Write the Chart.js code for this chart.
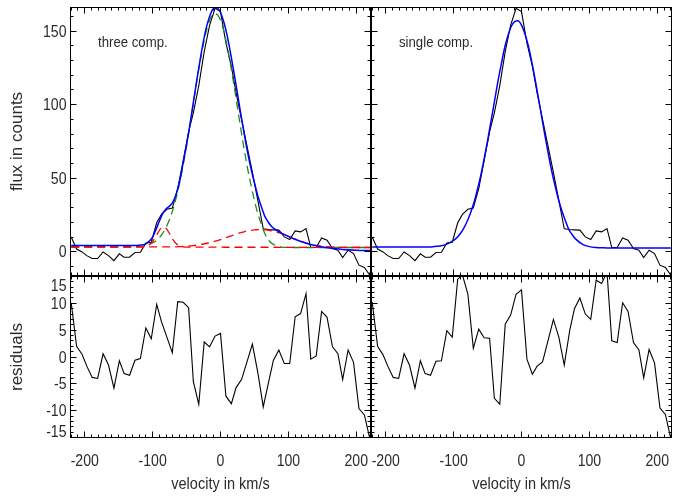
<!DOCTYPE html>
<html><head><meta charset="utf-8">
<script src="https://cdn.jsdelivr.net/npm/chart.js@4/dist/chart.umd.min.js"></script>
<style>
html,body{margin:0;padding:0;background:#fff;}
#wrap{position:relative;width:674px;height:496px;background:#fff;}
#wrap canvas{position:absolute;left:0;top:0;}
</style></head><body>
<div id="wrap">
<canvas id="c1" width="674" height="496"></canvas>
<canvas id="c2" width="674" height="496"></canvas>
<canvas id="c3" width="674" height="496"></canvas>
<canvas id="c4" width="674" height="496"></canvas>
</div>
<script>
// ---------- data ----------
const velocity = [-220,-212,-204,-197,-189,-181,-173,-165,-157,-149,-142,-134,-126,-118,-110,-102,-94,-87,-79,-71,-63,-55,-47,-40,-32,-24,-16,-8,0,8,16,23,31,39,47,55,63,71,78,86,94,102,110,118,126,133,141,149,157,165,173,180,188,196,204,212,220];
const flux = [10.2,2.0,0.0,-2.5,-4.5,-4.5,0.0,-2.5,-5.9,-1.3,-3.6,-3.6,-0.4,-0.2,6.1,6.6,19.8,25.5,29.0,29.8,43.0,62.0,81.6,94.5,113.0,136.0,154.0,165.5,163.2,142.0,126.0,108.0,90.0,72.0,54.0,35.0,15.7,15.2,15.0,14.8,10.2,8.4,14.3,13.6,15.9,3.0,3.0,9.5,8.0,2.3,1.2,-3.8,1.2,-1.1,-9.0,-10.6,-15.8];
const residThree = [10.1,2.0,0.5,-1.7,-3.8,-4.0,0.6,-1.5,-5.8,-0.7,-3.1,-3.4,-0.6,-0.3,5.4,3.4,9.8,6.6,3.7,0.8,10.3,10.2,9.2,-4.6,-8.8,2.8,1.9,3.9,4.4,-7.3,-8.7,-5.7,-4.2,-0.9,2.4,-2.9,-9.3,-4.6,-0.6,1.3,-1.2,-1.2,7.5,8.1,11.8,-0.4,0.2,8.5,7.4,1.9,0.6,-4.2,1.3,-1.0,-9.6,-10.8,-15.2];
const residSingle = [10.3,2.0,0.4,-1.7,-3.8,-4.0,0.6,-1.5,-5.8,-0.7,-3.1,-3.4,-0.8,-0.7,4.9,3.7,14.5,15.3,11.7,1.6,5.2,3.6,3.5,-7.7,-8.8,6.1,7.8,11.7,12.5,-0.4,-3.2,-1.7,-0.9,3.0,7.0,3.7,-1.5,4.9,9.0,11.0,8.0,7.0,14.3,13.7,15.8,3.0,2.7,10.1,8.5,2.7,1.3,-3.9,1.4,-1.1,-9.5,-10.7,-15.2];

const modelVel = [-220,-200,-180,-160,-140,-130,-120,-110,-100,-95,-90,-85,-80,-75,-70,-65,-60,-55,-50,-45,-40,-35,-30,-25,-20,-15,-10,-5,0,5,10,15,20,25,30,35,40,45,50,55,60,65,70,75,80,90,100,110,120,130,140,150,160,170,180,200,220];
const fitThree = [4.3,4.3,4.3,4.3,4.3,4.4,4.6,5.5,10.0,15.3,21.0,26.2,29.3,31.2,34.0,39.7,48.5,60.5,72.8,86.5,101.5,116.5,130.5,143.5,154.0,161.3,165.3,165.6,162.6,156.0,146.5,134.5,121.5,107.5,93.5,80.0,67.5,56.5,47.0,38.0,31.0,24.5,20.5,17.5,15.5,12.8,10.6,8.6,6.9,5.4,4.3,3.4,2.7,2.1,1.7,1.2,0.9];
const compMain = [3.3,3.3,3.3,3.3,3.3,3.3,3.6,4.4,6.1,7.6,9.8,12.8,16.9,22.2,28.9,37.3,47.3,59.0,72.1,86.3,101.0,115.6,129.5,141.7,151.5,158.4,161.7,161.3,157.3,149.8,139.4,126.8,112.8,98.0,83.4,69.4,56.6,45.2,35.0,26.0,19.0,12.8,8.6,6.0,4.6,3.3,3.1,3.0,3.0,3.0,3.0,3.0,3.0,3.0,3.0,3.0,3.0];
const compNarrow = [3.4,3.4,3.4,3.4,3.4,3.4,3.4,3.8,7.1,10.8,14.7,16.9,15.9,12.4,8.4,5.5,4.1,3.5,3.3,3.3,3.3,3.3,3.3,3.3,3.3,3.3,3.3,3.3,3.3,3.2,3.2,3.2,3.2,3.2,3.2,3.2,3.2,3.2,3.2,3.2,3.2,3.2,3.2,3.2,3.2,3.1,3.1,3.1,3.1,3.1,3.1,3.1,3.1,3.1,3.1,3.0,3.0];
const compBroad = [3.4,3.4,3.4,3.4,3.4,3.4,3.4,3.4,3.4,3.4,3.4,3.4,3.4,3.4,3.4,3.5,3.6,3.7,3.9,4.1,4.3,4.6,5.0,5.4,5.9,6.4,7.0,7.7,8.4,9.2,10.0,10.8,11.6,12.4,13.1,13.7,14.3,14.7,15.0,15.1,15.2,15.0,14.8,14.3,13.8,12.5,10.5,8.6,6.8,5.4,4.4,3.8,3.4,3.2,3.1,3.1,3.0];
const fitSingle = [3.3,3.3,3.3,3.3,3.4,3.6,4.1,5.3,7.8,9.8,12.5,16.2,20.8,26.6,33.6,42.3,52.0,63.4,75.5,88.7,101.8,115.1,127.0,138.3,146.8,153.3,156.4,157.0,154.0,148.2,140.0,129.4,117.4,104.3,91.0,77.9,65.5,53.9,43.9,34.8,27.3,20.8,15.0,11.5,8.7,5.2,3.6,3.0,2.8,2.7,2.6,2.6,2.6,2.6,2.6,2.6,2.6];

const xTickValues = [-200,-100,0,100,200];
const fluxTickValues = [0,50,100,150];
const residTickValues = [-15,-10,-5,0,5,10,15];

// ---------- helpers ----------
const FONT = "'Liberation Sans', Arial, sans-serif";
const TXT = '#2b2b2b';
function pts(xs, ys){ return xs.map((x,i)=>({x:x, y:ys[i]})); }

function drawText(ctx, s, x, y, size, align, baseline, rot, sx){
  ctx.save();
  ctx.translate(x, y);
  if (rot) ctx.rotate(rot);
  ctx.scale(sx || 1, 1);
  ctx.font = size + 'px ' + FONT;
  ctx.fillStyle = TXT;
  ctx.textAlign = align;
  ctx.textBaseline = baseline;
  ctx.fillText(s, 0, 0);
  ctx.restore();
}

const panelPlugin = {
  id: 'panel',
  afterDatasetsDraw(chart, args, o){
    const ctx = chart.ctx, a = chart.chartArea;
    const xs = chart.scales.x, ys = chart.scales.y;
    ctx.save();
    ctx.strokeStyle = '#000';
    ctx.lineWidth = 1;
    ctx.setLineDash([]);
    ctx.strokeRect(a.left, a.top, a.right - a.left, a.bottom - a.top);
    ctx.beginPath();
    for (let v = Math.ceil(xs.min / o.xMinor) * o.xMinor; v <= xs.max; v += o.xMinor){
      const major = o.xMajor.includes(v);
      const len = major ? 6 : 3;
      const p = Math.floor(xs.getPixelForValue(v)) + 0.5;
      ctx.moveTo(p, a.bottom); ctx.lineTo(p, a.bottom - len);
      ctx.moveTo(p, a.top); ctx.lineTo(p, a.top + len);
    }
    for (let v = Math.ceil(ys.min / o.yMinor) * o.yMinor; v <= ys.max + 1e-9; v += o.yMinor){
      const vv = Math.round(v * 1000) / 1000;
      const major = o.yMajor.includes(vv);
      const len = major ? 6 : 3;
      const p = Math.floor(ys.getPixelForValue(vv)) + 0.5;
      ctx.moveTo(a.left, p); ctx.lineTo(a.left + len, p);
      ctx.moveTo(a.right, p); ctx.lineTo(a.right - len, p);
    }
    ctx.stroke();
    ctx.restore();

    const FS = 16, SX = 0.88;
    if (o.xLabels){
      o.xMajor.forEach(v => {
        drawText(ctx, String(v), xs.getPixelForValue(v), 466, FS, 'center', 'alphabetic', 0, SX);
      });
      drawText(ctx, o.xTitle, (a.left + a.right) / 2, 489, 16.5, 'center', 'alphabetic', 0, SX);
    }
    if (o.yLabels){
      o.yMajor.forEach(v => {
        const p = ys.getPixelForValue(v);
        let y = p + 5.5;
        if (Math.abs(p - a.top) < 1) y = a.top + 14;
        if (Math.abs(p - a.bottom) < 1) y = a.bottom - 0.5;
        drawText(ctx, String(v), 66.5, y, FS, 'right', 'alphabetic', 0, SX);
      });
      drawText(ctx, o.yTitle, 17, (a.top + a.bottom) / 2, 17, 'center', 'middle', -Math.PI / 2, 1);
    }
    if (o.note){
      drawText(ctx, o.note, a.left + 27.5, 47, 15, 'left', 'alphabetic', 0, SX);
    }
  }
};

function makeChart(id, datasets, area, xr, yr, panelOpts){
  return new Chart(document.getElementById(id), {
    type: 'line',
    data: { datasets: datasets },
    options: {
      responsive: false,
      animation: false,
      devicePixelRatio: 1,
      events: [],
      layout: { padding: { left: area[0], top: area[1], right: 674 - area[2], bottom: 496 - area[3] } },
      scales: {
        x: { type: 'linear', min: xr[0], max: xr[1], display: false },
        y: { type: 'linear', min: yr[0], max: yr[1], display: false }
      },
      elements: { point: { radius: 0 } },
      plugins: { legend: { display: false }, tooltip: { enabled: false }, panel: panelOpts }
    },
    plugins: [panelPlugin]
  });
}

const X_RANGE = [-221, 221];
const FLUX_RANGE = [-16, 166];
const RES_RANGE = [-15, 15];

function dataLine(ys){ return { data: pts(velocity, ys), borderColor: '#000', borderWidth: 1.1, tension: 0, pointRadius: 0, order: 5 }; }
function modelLine(ys, color, width, dash, order){
  return { data: pts(modelVel, ys), borderColor: color, borderWidth: width, borderDash: dash, cubicInterpolationMode: 'monotone', pointRadius: 0, order: order };
}

makeChart('c1', [
  dataLine(flux),
  modelLine(compMain, '#1e8c1e', 1.3, [8,5], 3),
  modelLine(compNarrow, '#ff0000', 1.3, [8,5], 2),
  modelLine(compBroad, '#ff0000', 1.3, [8,5], 2),
  modelLine(fitThree, '#0000ff', 1.5, [], 1)
], [70.5, 7.5, 370.5, 275.5], X_RANGE, FLUX_RANGE,
{ xMajor: xTickValues, xMinor: 10, yMajor: fluxTickValues, yMinor: 10, xLabels: false, yLabels: true, yTitle: 'flux in counts', note: 'three comp.' });

makeChart('c2', [
  dataLine(flux),
  modelLine(fitSingle, '#0000ff', 1.5, [], 1)
], [371.5, 7.5, 671.5, 275.5], X_RANGE, FLUX_RANGE,
{ xMajor: xTickValues, xMinor: 10, yMajor: fluxTickValues, yMinor: 10, xLabels: false, yLabels: false, note: 'single comp.' });

makeChart('c3', [ dataLine(residThree) ], [70.5, 276.5, 370.5, 437.5], X_RANGE, RES_RANGE,
{ xMajor: xTickValues, xMinor: 10, yMajor: residTickValues, yMinor: 1, xLabels: true, xTitle: 'velocity in km/s', yLabels: true, yTitle: 'residuals' });

makeChart('c4', [ dataLine(residSingle) ], [371.5, 276.5, 671.5, 437.5], X_RANGE, RES_RANGE,
{ xMajor: xTickValues, xMinor: 10, yMajor: residTickValues, yMinor: 1, xLabels: true, xTitle: 'velocity in km/s', yLabels: false });
</script>
</body></html>
